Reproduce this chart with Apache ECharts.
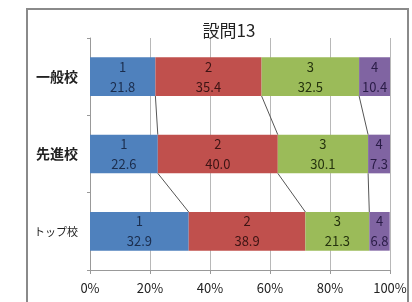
<!DOCTYPE html>
<html><head><meta charset="utf-8">
<script src="https://cdn.jsdelivr.net/npm/echarts@6/dist/echarts.min.js"></script>
<style>html,body{margin:0;padding:0;background:#fff}#c{width:412px;height:302px}</style>
</head><body><div id="c"></div>
<script>
const title = '設問13';
const categories = ['一般校', '先進校', 'トップ校'];
const seriesNames = ['1', '2', '3', '4'];
const s1 = [21.8, 22.6, 32.9];
const s2 = [35.4, 40.0, 38.9];
const s3 = [32.5, 30.1, 21.3];
const s4 = [10.4, 7.3, 6.8];
const xTicks = [0, 20, 40, 60, 80, 100];

const values = [s1, s2, s3, s4];
const colors = ['#4F81BD', '#C0504D', '#9BBB59', '#8064A2'];
const labelColors = ['#1b2d4d', '#3d1414', '#25330e', '#2a1c47'];
const font = '"Noto Sans CJK JP", "Noto Sans", sans-serif';

// connector lines between adjacent bars at each cumulative boundary
const connectors = [];
for (let k = 0; k < 3; k++) {
  for (let i = 0; i < categories.length - 1; i++) {
    let a = 0, b = 0;
    for (let j = 0; j <= k; j++) { a += values[j][i]; b += values[j][i + 1]; }
    connectors.push([a, b, i]);
  }
}

const series = values.map((v, si) => ({
  type: 'bar', name: seriesNames[si], stack: 'all', barWidth: '50%',
  data: v,
  itemStyle: { color: colors[si] },
  label: {
    show: true, position: 'inside', color: labelColors[si],
    fontFamily: font, fontSize: 13, lineHeight: 20,
    formatter: p => seriesNames[si] + '\n' + p.value.toFixed(1)
  }
}));
series.push({
  type: 'custom', data: connectors, encode: { x: [0, 1], y: 2 }, z: 5, silent: true,
  renderItem: (params, api) => {
    const i = api.value(2);
    const p1 = api.coord([api.value(0), i]);
    const p2 = api.coord([api.value(1), i + 1]);
    const h = api.size([0, 1])[1] * 0.25;
    return { type: 'line', shape: { x1: p1[0], y1: p1[1] + h, x2: p2[0], y2: p2[1] - h },
      style: { stroke: '#555', lineWidth: 1 } };
  }
});

const chart = echarts.init(document.getElementById('c'));
chart.setOption({
  animation: false,
  title: { text: title, left: 224, top: 17, textAlign: 'center',
    textStyle: { fontFamily: font, fontSize: 17, fontWeight: 'normal', color: '#222' } },
  graphic: [{ type: 'rect', shape: { x: 27, y: 9, width: 381, height: 300 },
    style: { fill: 'none', stroke: '#8a8a8a', lineWidth: 2 }, z: -1 }],
  grid: { left: 90, right: 22, top: 38, bottom: 32 },
  xAxis: {
    type: 'value', min: 0, max: 100, interval: 20,
    axisLine: { show: true, lineStyle: { color: '#999' } },
    axisTick: { show: true, length: 4, lineStyle: { color: '#999' } },
    splitLine: { show: true, lineStyle: { color: '#b8b8b8' } },
    axisLabel: { formatter: v => xTicks.includes(v) ? v + '%' : '', fontFamily: font, fontSize: 13, color: '#222', margin: 12 }
  },
  yAxis: {
    type: 'category', data: categories, inverse: true,
    axisLine: { show: true, lineStyle: { color: '#999' } },
    axisTick: { show: true, length: 3, lineStyle: { color: '#999' } },
    axisLabel: { fontFamily: font, fontSize: 14, fontWeight: 'bold', color: '#222', margin: 12,
      formatter: v => v === 'トップ校' ? '{s|' + v + '}' : v,
      rich: { s: { fontSize: 11, fontFamily: font, color: '#222', fontWeight: 'normal' } } }
  },
  series
});
</script></body></html>
